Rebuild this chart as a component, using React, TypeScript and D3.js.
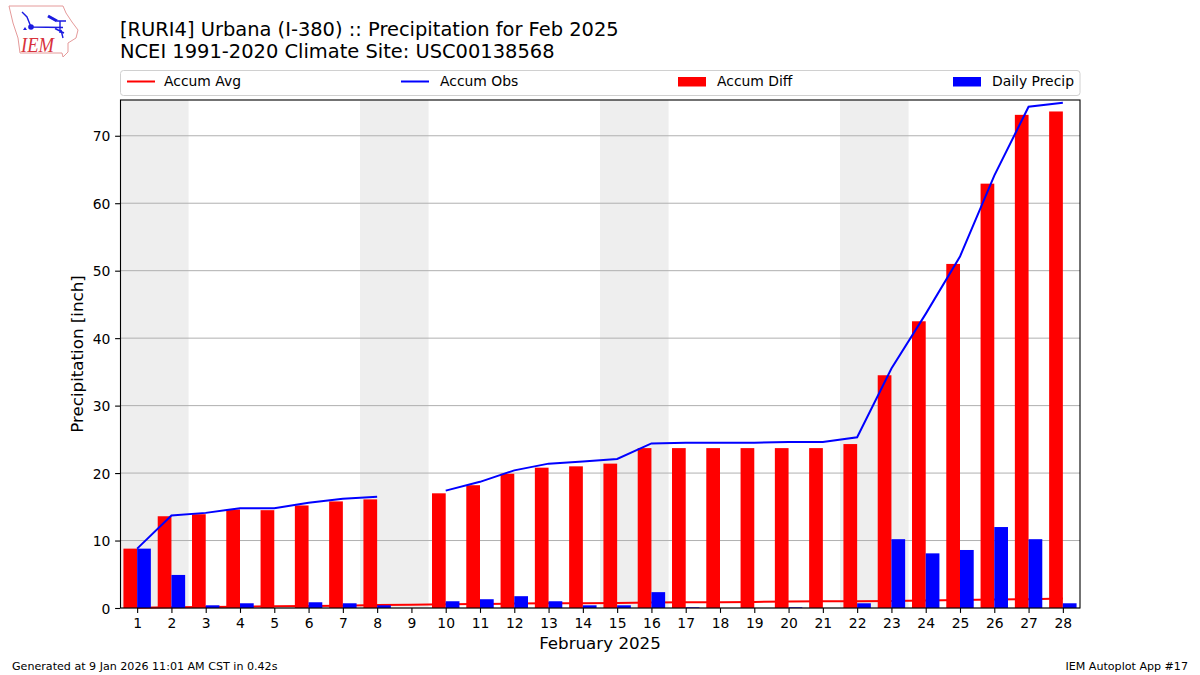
import { useEffect, useRef } from 'react';
import * as d3 from 'd3';

const days = d3.range(1, 29);
const dailyPrecip = [8.8, 4.9, 0.4, 0.7, 0, 0.85, 0.7, 0.4, 0, 1.0, 1.3, 1.75, 1.0, 0.4, 0.4, 2.35, 0.1, 0, 0, 0.1, 0, 0.7, 10.2, 8.1, 8.6, 12, 10.2, 0.7];
const accumObs = [8.8, 13.7, 14.1, 14.8, 14.8, 15.6, 16.2, 16.5, null, 17.4, 18.7, 20.4, 21.4, 21.7, 22.1, 24.4, 24.5, 24.5, 24.5, 24.6, 24.6, 25.3, 35.5, 43.6, 52.1, 64.1, 74.3, 74.9];
const accumDiff = [8.8, 13.6, 13.9, 14.6, 14.5, 15.2, 15.8, 16.1, 0, 17, 18.2, 19.9, 20.8, 21, 21.4, 23.7, 23.7, 23.7, 23.7, 23.7, 23.7, 24.3, 34.5, 42.5, 51, 62.9, 73.1, 73.6];
const accumAvg = [0.05, 0.1, 0.15, 0.2, 0.25, 0.3, 0.35, 0.45, 0.5, 0.55, 0.6, 0.65, 0.7, 0.7, 0.75, 0.8, 0.85, 0.85, 0.9, 0.95, 1.0, 1.0, 1.05, 1.1, 1.2, 1.25, 1.3, 1.4];
const weekends = [[0.5, 2.5], [7.5, 9.5], [14.5, 16.5], [21.5, 23.5]];
const yTicks = [0, 10, 20, 30, 40, 50, 60, 70];

const FONT = '"DejaVu Sans", sans-serif';
const margin = { top: 100, right: 120, bottom: 67, left: 120 };
const W = 1200;
const H = 675;

export default function App() {
  const ref = useRef<SVGSVGElement>(null);

  useEffect(() => {
    if (!ref.current) return;
    const svg = d3.select(ref.current);
    svg.selectAll('*').remove();

    const x = d3.scaleLinear().domain([0.5, 28.5]).range([margin.left, W - margin.right]);
    const y = d3.scaleLinear().domain([0, 75.3]).range([H - margin.bottom, margin.top]);
    const barW = x(1.4) - x(1);
    const [x0, x1] = x.range();
    const [y0, y1] = y.range();

    // titles
    svg.append('text').attr('x', 120).attr('y', 35.5).attr('font-size', 19.45).text('[RURI4] Urbana (I-380) :: Precipitation for Feb 2025');
    svg.append('text').attr('x', 120).attr('y', 57.5).attr('font-size', 19.45).text('NCEI 1991-2020 Climate Site: USC00138568');

    // logo, rough outline of Iowa
    const logo = svg.append('g');
    logo.append('path')
      .attr('d', 'M9,6 L63,6 L66,13 L72,22 L78,30 L76,38 L68,43 L68,52 L63,57 L62,53 L20,53 L18,38 L13,23 Z')
      .attr('fill', 'none').attr('stroke', '#e59a9a').attr('stroke-width', 1);
    logo.append('path').attr('d', 'M22,12 L27,17 L31,27 M31,27 L63,27.5 M57,21 L66,21 M60,21.5 L60,33 M55,28.5 L64,33 M61,30 L63,38')
      .attr('fill', 'none').attr('stroke', '#1a1ae0').attr('stroke-width', 1.4);
    logo.append('path').attr('d', 'M48,16 L57,21').attr('stroke', '#1a1ae0').attr('stroke-width', 3);
    logo.append('circle').attr('cx', 31).attr('cy', 27).attr('r', 2.8).attr('fill', '#1a1ae0');
    logo.append('path').attr('d', 'M23,30 L25,27 L27,30 Z').attr('fill', '#1a1ae0');
    logo.append('text').attr('x', 21).attr('y', 52).attr('font-family', '"Liberation Serif", serif')
      .attr('font-style', 'italic').attr('font-size', 22).attr('fill', '#d8323c')
      .attr('textLength', 33).attr('lengthAdjust', 'spacingAndGlyphs').text('IEM');

    // legend
    const legend = svg.append('g');
    legend.append('rect').attr('x', 120.5).attr('y', 70.5).attr('width', 959.5).attr('height', 25).attr('rx', 3)
      .attr('fill', 'white').attr('stroke', '#d0d0d0');
    const legendItems = [
      { label: 'Accum Avg', x: 127, textX: 164, color: 'red', bar: false },
      { label: 'Accum Obs', x: 401, textX: 440, color: 'blue', bar: false },
      { label: 'Accum Diff', x: 678, textX: 717, color: 'red', bar: true },
      { label: 'Daily Precip', x: 953, textX: 992, color: 'blue', bar: true },
    ];
    legendItems.forEach(d => {
      if (d.bar) {
        legend.append('rect').attr('x', d.x).attr('y', 77).attr('width', 28).attr('height', 9.5).attr('fill', d.color);
      } else {
        legend.append('line').attr('x1', d.x).attr('x2', d.x + 28).attr('y1', 81.5).attr('y2', 81.5)
          .attr('stroke', d.color).attr('stroke-width', 2);
      }
      legend.append('text').attr('x', d.textX).attr('y', 86).attr('font-size', 13.9).text(d.label);
    });

    // weekend shading
    svg.append('g').selectAll('rect').data(weekends).join('rect')
      .attr('x', d => x(d[0]))
      .attr('y', y1)
      .attr('width', d => x(d[1]) - x(d[0]))
      .attr('height', y0 - y1)
      .attr('fill', '#eeeeee');

    // grid
    svg.append('g').selectAll('line').data(yTicks).join('line')
      .attr('x1', x0).attr('x2', x1)
      .attr('y1', d => y(d)).attr('y2', d => y(d))
      .attr('stroke', '#b0b0b0').attr('stroke-width', 1);

    // avg line under the bars
    const line = d3.line<number | null>()
      .defined(d => d !== null)
      .x((_, i) => x(days[i]))
      .y(d => y(d as number));
    svg.append('path').datum(accumAvg).attr('d', line).attr('fill', 'none').attr('stroke', 'red').attr('stroke-width', 2);

    svg.append('g').selectAll('rect').data(accumDiff).join('rect')
      .attr('x', (_, i) => x(days[i]) - barW)
      .attr('y', d => y(d))
      .attr('width', barW)
      .attr('height', d => y0 - y(d))
      .attr('fill', 'red');

    svg.append('g').selectAll('rect').data(dailyPrecip).join('rect')
      .attr('x', (_, i) => x(days[i]))
      .attr('y', d => y(d))
      .attr('width', barW)
      .attr('height', d => y0 - y(d))
      .attr('fill', 'blue');

    svg.append('path').datum(accumObs).attr('d', line).attr('fill', 'none').attr('stroke', 'blue').attr('stroke-width', 2);

    // axes
    const xAxis = svg.append('g').attr('transform', `translate(0,${y0})`)
      .call(d3.axisBottom(x).tickValues(days).tickFormat(d3.format('d')).tickSize(4.9).tickSizeOuter(0));
    const yAxis = svg.append('g').attr('transform', `translate(${x0},0)`)
      .call(d3.axisLeft(y).tickValues(yTicks).tickSize(4.9).tickSizeOuter(0));
    [xAxis, yAxis].forEach(a => {
      a.attr('font-family', FONT).attr('font-size', 13.9);
      a.selectAll('text').attr('fill', 'black');
      a.selectAll('.tick line').attr('stroke', 'black').attr('stroke-width', 1.1);
      a.select('.domain').remove();
    });
    xAxis.selectAll('text').attr('dy', null).attr('y', 20);
    yAxis.selectAll('text').attr('x', -9.7).attr('dy', 5);

    svg.append('rect').attr('x', x0 + 0.5).attr('y', y1).attr('width', x1 - x0 - 0.5).attr('height', y0 - y1)
      .attr('fill', 'none').attr('stroke', 'black').attr('stroke-width', 1.1);

    // axis labels
    svg.append('text').attr('x', (x0 + x1) / 2).attr('y', 649).attr('text-anchor', 'middle').attr('font-size', 16.7).text('February 2025');
    svg.append('text').attr('transform', `translate(83,${(y0 + y1) / 2}) rotate(-90)`).attr('text-anchor', 'middle')
      .attr('font-size', 16.7).text('Precipitation [inch]');

    // footer
    svg.append('text').attr('x', 12).attr('y', 670).attr('font-size', 11.1).text('Generated at 9 Jan 2026 11:01 AM CST in 0.42s');
    svg.append('text').attr('x', 1188).attr('y', 670).attr('text-anchor', 'end').attr('font-size', 11.1).text('IEM Autoplot App #17');
  }, []);

  return (
    <svg
      ref={ref}
      width={W}
      height={H}
      fontFamily={FONT}
      style={{ position: 'absolute', left: 0, top: 0, background: 'white' }}
    />
  );
}
